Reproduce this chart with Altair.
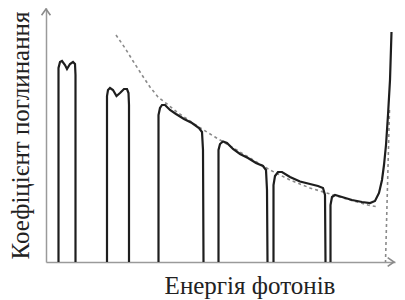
import altair as alt
import pandas as pd

# Absorption spectrum: photon energy (arb. units) vs absorption coefficient (arb. units)
peak1_energy = [12.5, 12.5, 14, 16, 19, 21, 24, 27, 29, 29.5, 29.5]
peak1_absorb = [0, 194, 200, 201, 197, 193, 198, 200, 198, 187, 0]

peak2_energy = [61, 61, 62, 64, 67, 70.5, 74, 78, 81, 82.5, 83, 83]
peak2_absorb = [0, 166, 172, 174, 172, 166, 169, 173, 173, 169, 157, 0]

peak3_energy = [112.5, 112.5, 114, 116, 119, 124, 130, 138, 146, 153, 156, 157, 157.5]
peak3_absorb = [0, 147, 154, 157, 157, 152, 148, 143, 139, 134, 130, 112, 0]

peak4_energy = [172.5, 172.5, 174, 177, 181, 187, 194, 202, 210, 217, 220, 221, 221.5]
peak4_absorb = [0, 112, 118, 120.5, 119, 113, 108, 104, 99, 96, 92, 72, 0]

peak5_energy = [227.5, 227.5, 229, 232, 236, 244, 254, 264, 272, 277, 279, 279.5]
peak5_absorb = [0, 77, 86, 90, 90, 85, 80.5, 78, 76, 74, 67, 0]

peak6_energy = [284.5, 284.5, 286, 289, 296, 306, 316, 324, 329, 333, 336, 338, 340, 342, 344, 345.5]
peak6_absorb = [0, 57, 65, 67, 65, 62, 60, 59, 61, 69, 82, 97, 117, 147, 182, 230]

envelope_energy = [70, 79, 87, 96, 104, 112, 121, 131, 144, 156, 169, 184, 204, 224, 244, 264, 284, 304, 322, 332]
envelope_absorb = [227, 214, 201, 187, 175, 165, 158, 150, 141, 133, 125, 116, 104, 92, 82, 74, 68, 62, 57, 55]

edge_energy = [343.5, 339.5]
edge_absorb = [152, 0]

rows = []
for name, xs, ys in [("p1", peak1_energy, peak1_absorb), ("p2", peak2_energy, peak2_absorb),
                     ("p3", peak3_energy, peak3_absorb), ("p4", peak4_energy, peak4_absorb),
                     ("p5", peak5_energy, peak5_absorb), ("p6", peak6_energy, peak6_absorb)]:
    for i, (x, y) in enumerate(zip(xs, ys)):
        rows.append({"series": name, "order": i, "energy": x, "absorb": y})
spectrum = pd.DataFrame(rows)

drows = []
for name, xs, ys in [("env", envelope_energy, envelope_absorb), ("edge", edge_energy, edge_absorb)]:
    for i, (x, y) in enumerate(zip(xs, ys)):
        drows.append({"series": name, "order": i, "energy": x, "absorb": y})
dashed = pd.DataFrame(drows)

FONT = "Liberation Serif"
PW, PH = 349, 254
xscale = alt.Scale(domain=[0, PW], nice=False, zero=False)
yscale = alt.Scale(domain=[0, PH], nice=False, zero=False)

xenc = alt.X("energy:Q", scale=xscale,
             axis=alt.Axis(title="Енергія фотонів", domain=True, domainColor="#9a9a9a",
                           domainWidth=1.5, ticks=False, labels=False, grid=False,
                           titleFont=FONT, titleFontSize=25, titleFontWeight="normal",
                           titleColor="#222222", titleX=203.5, titlePadding=11))
yenc = alt.Y("absorb:Q", scale=yscale,
             axis=alt.Axis(title="Коефіцієнт поглинання", domain=True, domainColor="#9a9a9a",
                           domainWidth=1.5, ticks=False, labels=False, grid=False,
                           titleFont=FONT, titleFontSize=25, titleFontWeight="normal",
                           titleColor="#222222", titlePadding=13))

dash_layer = alt.Chart(dashed).mark_line(color="#8a8a8a", strokeWidth=1.6, strokeDash=[3, 3]).encode(
    x=xenc, y=yenc, detail="series:N", order="order:Q")

line_layer = alt.Chart(spectrum).mark_line(color="#1e1e1e", strokeWidth=2.2).encode(
    x="energy:Q", y="absorb:Q", detail="series:N", order="order:Q")

one = pd.DataFrame({"a": [0]})
arrow_path = "M-0.7,1L0,0L0.7,1"
yarrow = alt.Chart(one).mark_point(shape=arrow_path, filled=False, size=160, strokeWidth=1.6,
                                   color="#8a8a8a", opacity=1).encode(x=alt.value(0), y=alt.value(1))
xarrow = alt.Chart(one).mark_point(shape=arrow_path, filled=False, size=160, strokeWidth=1.6,
                                   color="#8a8a8a", opacity=1, angle=90).encode(x=alt.value(PW - 1), y=alt.value(PH))

chart = alt.layer(dash_layer, line_layer, yarrow, xarrow).properties(
    width=PW, height=PH,
    autosize=alt.AutoSizeParams(type="none"),
    padding={"left": 38, "top": 0, "right": 2, "bottom": 40},
).configure_view(stroke=None)

chart.save("out.html", embed_options={"renderer": "svg", "actions": False})
